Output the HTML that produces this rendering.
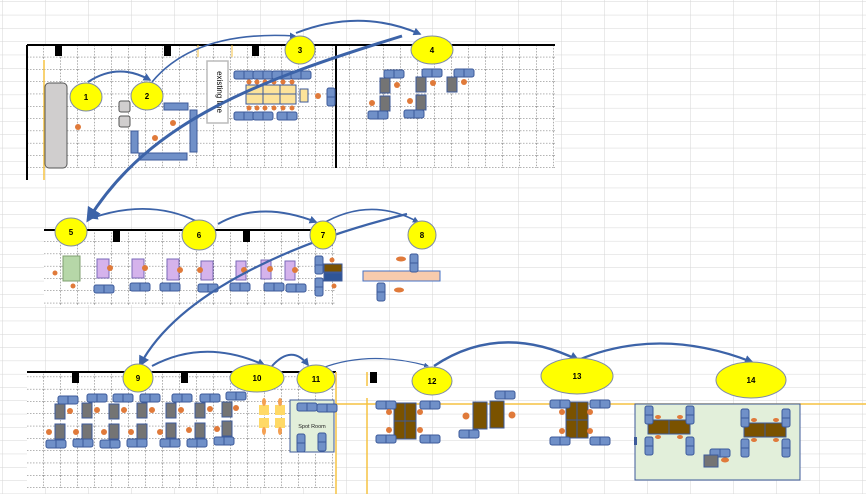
<!DOCTYPE html>
<html><head><meta charset="utf-8"><style>
html,body{margin:0;padding:0;background:#fff;}
svg{display:block;font-family:"Liberation Sans",sans-serif;}
</style></head><body>
<svg width="866" height="494" viewBox="0 0 866 494" xmlns="http://www.w3.org/2000/svg">
<defs>
<pattern id="bg" width="43" height="13.3" patternUnits="userSpaceOnUse" x="3" y="2">
<path d="M43 0V13.3M0 13.3H43" stroke="#d6d6d6" stroke-width="1" fill="none"/>
</pattern>
<pattern id="dg" width="17" height="12.3" patternUnits="userSpaceOnUse" x="27" y="45">
<path d="M17 0V12.3M0 12.3H17" stroke="#333" stroke-width="0.8" stroke-dasharray="1.5 1.5" fill="none"/>
</pattern>
<marker id="ah" viewBox="0 0 10 10" refX="8" refY="5" markerWidth="5" markerHeight="5" orient="auto"><path d="M0 0L10 5L0 10z" fill="#3c63a8"/></marker>
<marker id="ahb" viewBox="0 0 10 10" refX="8" refY="5" markerWidth="4" markerHeight="4" orient="auto"><path d="M0 0L10 5L0 10z" fill="#3c63a8"/></marker>
<g id="ch"><rect x="0" y="0" width="20" height="8" rx="2" fill="#7090c8" stroke="#3c5a9a" stroke-width="1"/><line x1="10" y1="0" x2="10" y2="8" stroke="#3c5a9a"/></g>
<g id="chv"><rect x="0" y="0" width="8" height="18" rx="2" fill="#7090c8" stroke="#3c5a9a" stroke-width="1"/><line x1="0" y1="9" x2="8" y2="9" stroke="#3c5a9a"/></g>
<g id="dk"><rect x="0" y="0" width="10" height="15" fill="#747474" stroke="#3c5a9a"/></g>
<g id="br"><rect x="0" y="0" width="22" height="36" fill="#7a5200" stroke="#3c5a9a"/><line x1="11" y1="0" x2="11" y2="36" stroke="#3c5a9a"/><line x1="0" y1="18" x2="22" y2="18" stroke="#3c5a9a"/></g>
</defs>
<rect width="866" height="494" fill="url(#bg)"/>

<!-- top area -->
<rect x="27" y="45" width="528" height="123" fill="#fff"/>
<rect x="27" y="45" width="528" height="123" fill="url(#dg)"/>
<line x1="27" y1="45" x2="555" y2="45" stroke="#000" stroke-width="2"/>
<line x1="27" y1="45" x2="27" y2="180" stroke="#000" stroke-width="2"/>
<line x1="336" y1="45" x2="336" y2="168" stroke="#000" stroke-width="2"/>
<rect x="55" y="45" width="7" height="11" fill="#000"/><rect x="164" y="45" width="7" height="11" fill="#000"/><rect x="252" y="45" width="7" height="11" fill="#000"/>
<line x1="44" y1="60" x2="44" y2="180" stroke="#f5c242" stroke-width="1.5"/>
<line x1="198" y1="45" x2="198" y2="57" stroke="#f5c242"/><line x1="232" y1="45" x2="232" y2="57" stroke="#f5c242"/>
<rect x="45" y="83" width="22" height="85" rx="4" fill="#d0cece" stroke="#555"/>
<rect x="119" y="101" width="11" height="11" rx="2" fill="#d0cece" stroke="#555"/>
<rect x="119" y="116" width="11" height="11" rx="2" fill="#d0cece" stroke="#555"/>
<rect x="207" y="61" width="21" height="62" fill="#fff" stroke="#bbb" stroke-width="1.5"/>
<text x="217" y="92" font-size="8" transform="rotate(90 217 92)" text-anchor="middle" fill="#000">existing line</text>
<rect x="164" y="103" width="24" height="7" fill="#7090c8" stroke="#3c5a9a"/>
<rect x="190" y="110" width="7" height="42" fill="#7090c8" stroke="#3c5a9a"/>
<rect x="131" y="131" width="7" height="22" fill="#7090c8" stroke="#3c5a9a"/>
<rect x="139" y="153" width="48" height="7" fill="#7090c8" stroke="#3c5a9a"/>
<circle cx="78" cy="127" r="3" fill="#e07a3a"/><circle cx="173" cy="123" r="3" fill="#e07a3a"/><circle cx="155" cy="138" r="3" fill="#e07a3a"/>
<rect x="246" y="85" width="50" height="19" fill="#fde39a" stroke="#3c5a9a"/>
<line x1="263" y1="85" x2="263" y2="104" stroke="#3c5a9a"/><line x1="280" y1="85" x2="280" y2="104" stroke="#3c5a9a"/><line x1="246" y1="94" x2="296" y2="94" stroke="#3c5a9a"/>
<use href="#ch" x="234" y="71"/><use href="#ch" x="253" y="71"/><use href="#ch" x="272" y="71"/><use href="#ch" x="291" y="71"/>
<use href="#ch" x="234" y="112"/><use href="#ch" x="253" y="112"/><use href="#ch" x="277" y="112"/>
<rect x="300" y="89" width="8" height="13" fill="#fde39a" stroke="#3c5a9a"/><circle cx="318" cy="96" r="3" fill="#e07a3a"/>
<use href="#chv" x="327" y="88"/>
<g fill="#e07a3a"><circle cx="249" cy="82" r="2.5"/><circle cx="257" cy="82" r="2.5"/><circle cx="265" cy="82" r="2.5"/><circle cx="274" cy="82" r="2.5"/><circle cx="283" cy="82" r="2.5"/><circle cx="292" cy="82" r="2.5"/>
<circle cx="249" cy="108" r="2.5"/><circle cx="257" cy="108" r="2.5"/><circle cx="265" cy="108" r="2.5"/><circle cx="274" cy="108" r="2.5"/><circle cx="283" cy="108" r="2.5"/><circle cx="292" cy="108" r="2.5"/></g>
<!-- room 4 furniture -->
<use href="#ch" x="384" y="70"/><use href="#ch" x="422" y="69"/><use href="#ch" x="454" y="69"/>
<use href="#dk" x="380" y="78"/><use href="#dk" x="416" y="77"/><use href="#dk" x="447" y="77"/><use href="#dk" x="416" y="95"/><use href="#dk" x="380" y="96"/>
<use href="#ch" x="368" y="111"/><use href="#ch" x="404" y="110"/>
<g fill="#e07a3a"><circle cx="397" cy="85" r="3"/><circle cx="433" cy="83" r="3"/><circle cx="464" cy="82" r="3"/><circle cx="410" cy="101" r="3"/><circle cx="372" cy="103" r="3"/></g>

<!-- middle area -->
<rect x="44" y="230" width="292" height="75" fill="#fff"/>
<rect x="44" y="230" width="292" height="75" fill="url(#dg)"/>
<line x1="44" y1="230" x2="336" y2="230" stroke="#000" stroke-width="2"/>
<rect x="113" y="230" width="7" height="12" fill="#000"/><rect x="243" y="230" width="7" height="12" fill="#000"/>
<rect x="63" y="256" width="17" height="25" fill="#b6d7a8" stroke="#7f9f6f"/>
<circle cx="55" cy="273" r="2.5" fill="#e07a3a"/><circle cx="73" cy="286" r="2.5" fill="#e07a3a"/>
<g fill="#d5b3ec" stroke="#7a6ab8">
<rect x="97" y="259" width="12" height="19"/><rect x="132" y="259" width="12" height="19"/><rect x="167" y="259" width="12" height="21"/><rect x="201" y="261" width="12" height="19"/><rect x="236" y="261" width="10" height="19"/><rect x="261" y="260" width="10" height="19"/><rect x="285" y="261" width="10" height="19"/></g>
<g fill="#e07a3a"><circle cx="110" cy="268" r="3"/><circle cx="145" cy="268" r="3"/><circle cx="180" cy="270" r="3"/><circle cx="200" cy="270" r="3"/><circle cx="244" cy="270" r="3"/><circle cx="270" cy="269" r="3"/><circle cx="295" cy="270" r="3"/></g>
<use href="#ch" x="94" y="285"/><use href="#ch" x="130" y="283"/><use href="#ch" x="160" y="283"/><use href="#ch" x="198" y="284"/><use href="#ch" x="230" y="283"/><use href="#ch" x="264" y="283"/><use href="#ch" x="286" y="284"/>
<use href="#chv" x="315" y="256"/><use href="#chv" x="315" y="278"/>
<rect x="324" y="264" width="18" height="8" fill="#7a5200" stroke="#3c5a9a"/><rect x="324" y="273" width="18" height="8" fill="#2f5597" stroke="#3c5a9a"/>
<circle cx="332" cy="260" r="2.5" fill="#e07a3a"/><circle cx="334" cy="286" r="2.5" fill="#e07a3a"/>
<rect x="363" y="271" width="77" height="10" fill="#f8cbad" stroke="#4472c4"/>
<use href="#chv" x="410" y="254"/><use href="#chv" x="377" y="283"/>
<ellipse cx="401" cy="259" rx="5" ry="2.5" fill="#e07a3a"/><ellipse cx="399" cy="290" rx="5" ry="2.5" fill="#e07a3a"/>

<!-- bottom area -->
<rect x="27" y="372" width="309" height="116" fill="#fff"/>
<rect x="27" y="372" width="309" height="116" fill="url(#dg)"/>
<line x1="27" y1="372" x2="336" y2="372" stroke="#000" stroke-width="2"/>
<rect x="72" y="372" width="7" height="11" fill="#000"/><rect x="181" y="372" width="7" height="11" fill="#000"/><rect x="370" y="372" width="7" height="11" fill="#000"/>
<line x1="336" y1="372" x2="336" y2="494" stroke="#f5c242" stroke-width="1.5"/>
<line x1="367" y1="398" x2="367" y2="494" stroke="#f5c242" stroke-width="1.5"/>
<line x1="336" y1="404" x2="866" y2="404" stroke="#f5c242" stroke-width="1.5"/>
<line x1="367" y1="372" x2="367" y2="386" stroke="#f5c242" stroke-width="1.5"/>
<g>
<use href="#dk" x="55" y="404"/><use href="#dk" x="82" y="403"/><use href="#dk" x="109" y="404"/><use href="#dk" x="137" y="403"/><use href="#dk" x="166" y="403"/><use href="#dk" x="195" y="403"/><use href="#dk" x="222" y="402"/>
<use href="#dk" x="55" y="424"/><use href="#dk" x="82" y="424"/><use href="#dk" x="109" y="424"/><use href="#dk" x="137" y="424"/><use href="#dk" x="166" y="423"/><use href="#dk" x="195" y="423"/><use href="#dk" x="222" y="421"/>
<use href="#ch" x="58" y="396"/><use href="#ch" x="87" y="394"/><use href="#ch" x="113" y="394"/><use href="#ch" x="140" y="394"/><use href="#ch" x="172" y="394"/><use href="#ch" x="200" y="394"/><use href="#ch" x="226" y="392"/>
<use href="#ch" x="46" y="440"/><use href="#ch" x="73" y="439"/><use href="#ch" x="100" y="440"/><use href="#ch" x="127" y="439"/><use href="#ch" x="160" y="439"/><use href="#ch" x="187" y="439"/><use href="#ch" x="214" y="437"/>
</g>
<g fill="#e07a3a"><circle cx="70" cy="411" r="3"/><circle cx="97" cy="410" r="3"/><circle cx="124" cy="410" r="3"/><circle cx="152" cy="410" r="3"/><circle cx="181" cy="410" r="3"/><circle cx="210" cy="409" r="3"/><circle cx="236" cy="408" r="3"/>
<circle cx="49" cy="432" r="3"/><circle cx="76" cy="432" r="3"/><circle cx="104" cy="432" r="3"/><circle cx="131" cy="432" r="3"/><circle cx="160" cy="432" r="3"/><circle cx="189" cy="430" r="3"/><circle cx="217" cy="429" r="3"/></g>
<g fill="#ffd966"><rect x="259" y="405" width="10" height="10"/><rect x="275" y="405" width="10" height="10"/><rect x="259" y="418" width="10" height="10"/><rect x="275" y="418" width="10" height="10"/></g>
<g fill="#f4a052"><ellipse cx="264" cy="402" rx="2" ry="4"/><ellipse cx="280" cy="402" rx="2" ry="4"/><ellipse cx="264" cy="431" rx="2" ry="4"/><ellipse cx="280" cy="431" rx="2" ry="4"/></g>
<rect x="290" y="400" width="44" height="52" fill="#e2efda" stroke="#3c5a9a"/>
<text x="312" y="428" font-size="5.5" text-anchor="middle" fill="#222">Spot Room</text>
<use href="#ch" x="297" y="403"/><use href="#ch" x="317" y="404"/><use href="#chv" x="297" y="434"/><use href="#chv" x="318" y="433"/>
<!-- 12 -->
<use href="#br" x="394" y="403"/>
<use href="#ch" x="376" y="401"/><use href="#ch" x="420" y="401"/><use href="#ch" x="376" y="435"/><use href="#ch" x="420" y="435"/>
<g fill="#e07a3a"><circle cx="389" cy="412" r="3"/><circle cx="420" cy="412" r="3"/><circle cx="389" cy="430" r="3"/><circle cx="420" cy="430" r="3"/></g>
<rect x="473" y="402" width="14" height="27" fill="#7a5200" stroke="#3c5a9a"/><rect x="490" y="401" width="14" height="27" fill="#7a5200" stroke="#3c5a9a"/>
<use href="#ch" x="495" y="391"/><use href="#ch" x="459" y="430"/>
<circle cx="466" cy="416" r="3.5" fill="#e07a3a"/><circle cx="512" cy="415" r="3.5" fill="#e07a3a"/>
<!-- 13 -->
<use href="#br" x="566" y="402"/>
<use href="#ch" x="550" y="400"/><use href="#ch" x="590" y="400"/><use href="#ch" x="550" y="437"/><use href="#ch" x="590" y="437"/>
<g fill="#e07a3a"><circle cx="562" cy="412" r="3"/><circle cx="590" cy="412" r="3"/><circle cx="562" cy="431" r="3"/><circle cx="590" cy="431" r="3"/></g>
<!-- 14 room -->
<rect x="635" y="404" width="165" height="76" fill="#e2efda" stroke="#3c5a9a"/>
<rect x="648" y="420" width="42" height="14" fill="#7a5200" stroke="#3c5a9a"/><line x1="669" y1="420" x2="669" y2="434" stroke="#3c5a9a"/>
<rect x="744" y="423" width="42" height="14" fill="#7a5200" stroke="#3c5a9a"/><line x1="765" y1="423" x2="765" y2="437" stroke="#3c5a9a"/>
<use href="#chv" x="645" y="406" transform="scale(1)"/><use href="#chv" x="686" y="406"/><use href="#chv" x="645" y="437"/><use href="#chv" x="686" y="437"/>
<use href="#chv" x="741" y="409"/><use href="#chv" x="782" y="409"/><use href="#chv" x="741" y="439"/><use href="#chv" x="782" y="439"/>
<g fill="#e07a3a"><ellipse cx="658" cy="417" rx="3" ry="2"/><ellipse cx="680" cy="417" rx="3" ry="2"/><ellipse cx="658" cy="437" rx="3" ry="2"/><ellipse cx="680" cy="437" rx="3" ry="2"/>
<ellipse cx="754" cy="420" rx="3" ry="2"/><ellipse cx="776" cy="420" rx="3" ry="2"/><ellipse cx="754" cy="440" rx="3" ry="2"/><ellipse cx="776" cy="440" rx="3" ry="2"/><ellipse cx="725" cy="460" rx="4" ry="2.5"/></g>
<use href="#ch" x="710" y="449"/>
<rect x="704" y="455" width="14" height="12" fill="#747474" stroke="#3c5a9a"/>
<rect x="634" y="437" width="3" height="8" fill="#3c5a9a"/>

<!-- arrows -->
<g fill="none" stroke="#3c63a8">
<path d="M88 82 Q118 62 150 80" stroke-width="2" marker-end="url(#ahb)"/>
<path d="M152 82 Q195 30 295 36" stroke-width="1.6" marker-end="url(#ahb)"/>
<path d="M296 33 Q360 8 420 34" stroke-width="2" marker-end="url(#ahb)"/>
<path d="M402 36 C260 80 150 120 88 220" stroke-width="3" marker-end="url(#ah)"/>
<path d="M198 222 Q150 198 92 218" stroke-width="1.8" marker-end="url(#ahb)"/>
<path d="M218 224 Q260 200 316 222" stroke-width="2" marker-end="url(#ahb)"/>
<path d="M322 224 Q370 196 418 222" stroke-width="1.6" marker-end="url(#ahb)"/>
<path d="M407 214 C300 240 180 290 140 365" stroke-width="2.2" marker-end="url(#ah)"/>
<path d="M152 366 Q205 338 264 365" stroke-width="2" marker-end="url(#ahb)"/>
<path d="M272 366 Q292 344 308 365" stroke-width="2" marker-end="url(#ahb)"/>
<path d="M322 368 Q370 350 428 366" stroke-width="1.2" marker-end="url(#ahb)"/>
<path d="M434 366 Q500 322 578 360" stroke-width="2.5" marker-end="url(#ahb)"/>
<path d="M578 360 Q660 326 752 362" stroke-width="2.2" marker-end="url(#ahb)"/>
</g>

<!-- numbered ellipses -->
<g fill="#ffff00" stroke="#7d8aa8" stroke-width="1">
<ellipse cx="86" cy="97" rx="16" ry="14"/><ellipse cx="147" cy="96" rx="16" ry="14"/><ellipse cx="300" cy="50" rx="15" ry="14"/><ellipse cx="432" cy="50" rx="21" ry="14"/>
<ellipse cx="71" cy="232" rx="16" ry="14"/><ellipse cx="199" cy="235" rx="17" ry="15"/><ellipse cx="323" cy="235" rx="13" ry="14"/><ellipse cx="422" cy="235" rx="14" ry="14"/>
<ellipse cx="138" cy="378" rx="15" ry="14"/><ellipse cx="257" cy="378" rx="27" ry="14"/><ellipse cx="316" cy="379" rx="19" ry="14"/><ellipse cx="432" cy="381" rx="20" ry="14"/>
<ellipse cx="577" cy="376" rx="36" ry="18"/><ellipse cx="751" cy="380" rx="35" ry="18"/>
</g>
<g font-size="8" font-weight="bold" text-anchor="middle" fill="#000">
<text x="86" y="100">1</text><text x="147" y="99">2</text><text x="300" y="53">3</text><text x="432" y="53">4</text>
<text x="71" y="235">5</text><text x="199" y="238">6</text><text x="323" y="238">7</text><text x="422" y="238">8</text>
<text x="138" y="381">9</text><text x="257" y="381">10</text><text x="316" y="382">11</text><text x="432" y="384">12</text>
<text x="577" y="379">13</text><text x="751" y="383">14</text>
</g>
</svg>
</body></html>
